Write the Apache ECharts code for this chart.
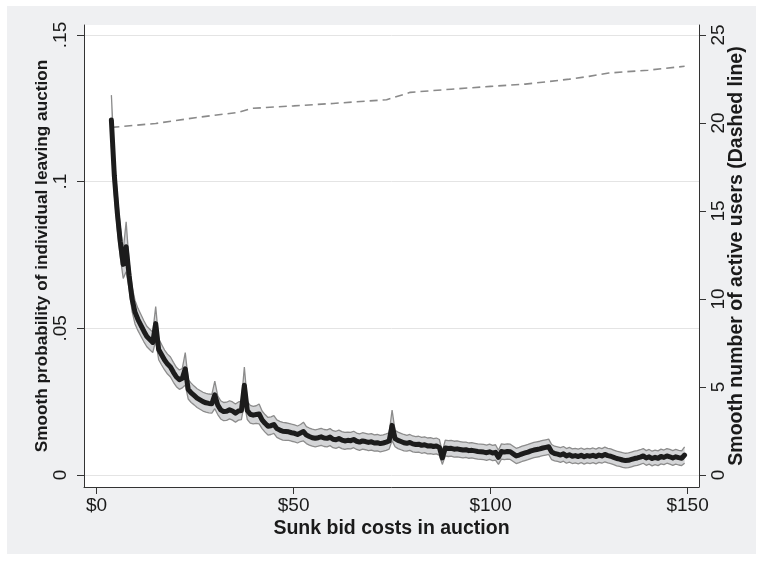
<!DOCTYPE html>
<html><head><meta charset="utf-8">
<script src="https://cdn.jsdelivr.net/npm/echarts@6/dist/echarts.min.js"></script>
<style>html,body{margin:0;padding:0;background:#fff}#c{width:763px;height:561px}</style>
</head><body><div id="c"></div>
<script>
const bidCosts = [3.75,4.5,5.25,6,6.75,7.5,8.25,9,9.75,10.5,11.25,12,12.75,13.5,14.25,15,15.75,16.5,17.25,18,18.75,19.5,20.25,21,21.75,22.5,23.25,24,24.75,25.5,26.25,27,27.75,28.5,29.25,30,30.75,31.5,32.25,33,33.75,34.5,35.25,36,36.75,37.5,38.25,39,39.75,40.5,41.25,42,42.75,43.5,44.25,45,45.75,46.5,47.25,48,48.75,49.5,50.25,51,51.75,52.5,53.25,54,54.75,55.5,56.25,57,57.75,58.5,59.25,60,60.75,61.5,62.25,63,63.75,64.5,65.25,66,66.75,67.5,68.25,69,69.75,70.5,71.25,72,72.75,73.5,74.25,75,75.75,76.5,77.25,78,78.75,79.5,80.25,81,81.75,82.5,83.25,84,84.75,85.5,86.25,87,87.75,88.5,89.25,90,90.75,91.5,92.25,93,93.75,94.5,95.25,96,96.75,97.5,98.25,99,99.75,100.5,101.25,102,102.75,103.5,104.25,105,105.75,106.5,107.25,108,108.75,109.5,110.25,111,111.75,112.5,113.25,114,114.75,115.5,116.25,117,117.75,118.5,119.25,120,120.75,121.5,122.25,123,123.75,124.5,125.25,126,126.75,127.5,128.25,129,129.75,130.5,131.25,132,132.75,133.5,134.25,135,135.75,136.5,137.25,138,138.75,139.5,140.25,141,141.75,142.5,143.25,144,144.75,145.5,146.25,147,147.75,148.5,149.25];
const leaveProb = [
0.1210,0.1020,0.0895,0.0795,0.0718,0.0778,0.0680,0.0600,0.0555,0.0530,
0.0510,0.0490,0.0472,0.0462,0.0452,0.0516,0.0428,0.0410,0.0392,0.0378,
0.0368,0.0350,0.0334,0.0325,0.0330,0.0362,0.0292,0.0280,0.0271,0.0262,
0.0256,0.0250,0.0246,0.0244,0.0243,0.0273,0.0238,0.0222,0.0216,0.0217,
0.0222,0.0218,0.0211,0.0218,0.0220,0.0306,0.0220,0.0207,0.0204,0.0206,
0.0208,0.0188,0.0176,0.0166,0.0168,0.0172,0.0158,0.0153,0.0149,0.0148,
0.0147,0.0144,0.0142,0.0138,0.0143,0.0148,0.0136,0.0131,0.0127,0.0125,
0.0127,0.0130,0.0126,0.0125,0.0129,0.0122,0.0120,0.0124,0.0119,0.0116,
0.0118,0.0117,0.0121,0.0115,0.0112,0.0116,0.0114,0.0111,0.0113,0.0109,
0.0110,0.0107,0.0109,0.0112,0.0116,0.0169,0.0124,0.0118,0.0114,0.0110,
0.0108,0.0111,0.0106,0.0104,0.0105,0.0101,0.0103,0.0099,0.0100,0.0097,
0.0099,0.0094,0.0058,0.0092,0.0090,0.0091,0.0088,0.0089,0.0087,0.0085,
0.0086,0.0083,0.0084,0.0082,0.0080,0.0079,0.0078,0.0076,0.0079,0.0075,
0.0077,0.0060,0.0080,0.0078,0.0080,0.0079,0.0072,0.0065,0.0068,0.0072,
0.0075,0.0078,0.0082,0.0085,0.0087,0.0089,0.0092,0.0094,0.0096,0.0078,
0.0073,0.0071,0.0068,0.0072,0.0065,0.0069,0.0064,0.0066,0.0063,0.0067,
0.0062,0.0066,0.0064,0.0067,0.0063,0.0068,0.0065,0.0070,0.0066,0.0064,
0.0060,0.0056,0.0054,0.0051,0.0049,0.0050,0.0053,0.0056,0.0058,0.0061,
0.0065,0.0058,0.0062,0.0056,0.0060,0.0057,0.0063,0.0060,0.0065,0.0062,
0.0058,0.0062,0.0059,0.0057,0.0068];
const ciHalf = [
0.0085,0.0065,0.0058,0.0052,0.0048,0.0085,0.0045,0.0042,0.0040,0.0038,
0.0037,0.0036,0.0035,0.0035,0.0035,0.0058,0.0035,0.0035,0.0034,0.0034,
0.0034,0.0034,0.0033,0.0033,0.0033,0.0055,0.0033,0.0033,0.0032,0.0032,
0.0032,0.0032,0.0032,0.0032,0.0032,0.0047,0.0032,0.0031,0.0031,0.0031,
0.0031,0.0031,0.0031,0.0031,0.0031,0.0062,0.0031,0.0030,0.0030,0.0030,
0.0034,0.0030,0.0030,0.0030,0.0030,0.0030,0.0030,0.0030,0.0030,0.0030,
0.0029,0.0029,0.0029,0.0029,0.0029,0.0032,0.0029,0.0029,0.0029,0.0029,
0.0029,0.0029,0.0029,0.0029,0.0029,0.0029,0.0029,0.0029,0.0029,0.0029,
0.0028,0.0028,0.0028,0.0028,0.0028,0.0028,0.0028,0.0028,0.0028,0.0028,
0.0028,0.0028,0.0028,0.0028,0.0028,0.0052,0.0028,0.0028,0.0028,0.0028,
0.0027,0.0027,0.0027,0.0027,0.0027,0.0027,0.0027,0.0027,0.0027,0.0027,
0.0027,0.0027,0.0022,0.0027,0.0027,0.0027,0.0027,0.0027,0.0027,0.0027,
0.0026,0.0026,0.0026,0.0026,0.0026,0.0026,0.0026,0.0026,0.0026,0.0026,
0.0026,0.0024,0.0026,0.0026,0.0026,0.0026,0.0026,0.0026,0.0026,0.0026,
0.0026,0.0026,0.0026,0.0026,0.0026,0.0026,0.0026,0.0026,0.0026,0.0026,
0.0025,0.0025,0.0025,0.0025,0.0025,0.0025,0.0025,0.0025,0.0025,0.0025,
0.0025,0.0025,0.0025,0.0025,0.0025,0.0025,0.0025,0.0025,0.0025,0.0025,
0.0025,0.0025,0.0025,0.0025,0.0025,0.0025,0.0025,0.0025,0.0025,0.0025,
0.0025,0.0025,0.0025,0.0025,0.0025,0.0025,0.0025,0.0025,0.0025,0.0025,
0.0025,0.0025,0.0025,0.0025,0.0028];
const activeCosts = [3.75,15,25,35.9,39.4,50,60,73.6,79.6,90,100,108.8,115,120,125,130,140,149.25];
const activeUsers = [19.75,19.97,20.3,20.6,20.83,20.97,21.11,21.32,21.74,21.92,22.08,22.21,22.36,22.49,22.65,22.84,23.0,23.22];
const xTicks = [0,50,100,150];
const yLeftTicks = [0,0.05,0.1,0.15];
const yRightTicks = [0,5,10,15,20,25];

const FONT = "'Liberation Sans', Arial, Helvetica, sans-serif";
const TXT = '#1a1a1a';
const AX = '#333333';

const n = Math.min(bidCosts.length, leaveProb.length, ciHalf.length);
const meanData = [], lowData = [], highData = [], bandRows = [];
for (let i = 0; i < n; i++) {
  const lo = leaveProb[i] - ciHalf[i], hi = leaveProb[i] + ciHalf[i];
  meanData.push([bidCosts[i], leaveProb[i]]);
  lowData.push([bidCosts[i], lo]);
  highData.push([bidCosts[i], hi]);
  bandRows.push([bidCosts[i], lo, hi]);
}
const activeData = activeCosts.map((c, i) => [c, activeUsers[i]]);

function renderBand(params, api) {
  if (params.dataIndex !== 0) return null;
  const pts = [];
  for (let i = 0; i < bandRows.length; i++) pts.push(api.coord([bandRows[i][0], bandRows[i][2]]));
  for (let i = bandRows.length - 1; i >= 0; i--) pts.push(api.coord([bandRows[i][0], bandRows[i][1]]));
  return {type: 'polygon', shape: {points: pts}, style: {fill: '#d4d5d7', stroke: null}, silent: true};
}

const chart = echarts.init(document.getElementById('c'), null, {renderer: 'canvas'});
chart.setOption({
  animation: false,
  backgroundColor: '#ffffff',
  textStyle: {fontFamily: FONT},
  graphic: [{
    type: 'rect', z: -10, silent: true,
    shape: {x: 7, y: 6, width: 749, height: 548},
    style: {fill: '#eff0f2'}
  }],
  grid: {left: 84, right: 64, top: 25, bottom: 74, show: true, backgroundColor: '#ffffff', borderWidth: 0},
  xAxis: {
    type: 'value', min: -3.2, max: 152.9,
    axisLine: {show: true, onZero: false, lineStyle: {color: AX, width: 1}},
    axisTick: {show: true, length: 7, customValues: xTicks, lineStyle: {color: AX, width: 1}},
    axisLabel: {customValues: xTicks, formatter: v => '$' + v, fontSize: 19, color: TXT, margin: 9, fontFamily: FONT},
    splitLine: {show: false},
    name: 'Sunk bid costs in auction', nameLocation: 'middle', nameGap: 32, nameMoveOverlap: false,
    nameTextStyle: {fontSize: 19.5, fontWeight: 'bold', color: TXT, fontFamily: FONT}
  },
  yAxis: [{
    type: 'value', position: 'left', min: -0.0041, max: 0.1534,
    axisLine: {show: true, onZero: false, lineStyle: {color: AX, width: 1}},
    axisTick: {show: true, length: 7, customValues: yLeftTicks, lineStyle: {color: AX, width: 1}},
    axisLabel: {customValues: yLeftTicks, rotate: 90, fontSize: 19, color: TXT, margin: 14, fontFamily: FONT,
      formatter: v => v === 0 ? '0' : String(+v.toFixed(2)).replace(/^0/, '')},
    splitLine: {show: true, lineStyle: {color: '#e4e4e4', width: 1}},
    name: 'Smooth probability of individual leaving auction', nameLocation: 'middle', nameGap: 33, nameRotate: 90, nameMoveOverlap: false,
    nameTextStyle: {fontSize: 17.2, fontWeight: 'bold', color: TXT, fontFamily: FONT}
  }, {
    type: 'value', position: 'right', min: -0.6833, max: 25.567,
    axisLine: {show: true, onZero: false, lineStyle: {color: AX, width: 1}},
    axisTick: {show: true, length: 7, customValues: yRightTicks, lineStyle: {color: AX, width: 1}},
    axisLabel: {customValues: yRightTicks, rotate: 90, fontSize: 19, color: TXT, margin: 10, fontFamily: FONT},
    splitLine: {show: false},
    name: 'Smooth number of active users (Dashed line)', nameLocation: 'middle', nameGap: 28, nameRotate: 90, nameMoveOverlap: false,
    nameTextStyle: {fontSize: 19.5, fontWeight: 'bold', color: TXT, fontFamily: FONT}
  }],
  series: [{
    name: 'ciBand', type: 'custom', data: bandRows, encode: {x: 0, y: [1, 2]}, renderItem: renderBand, z: 2, silent: true, clip: true
  }, {
    name: 'ciLow', type: 'line', data: lowData, symbol: 'none', z: 3, silent: true,
    lineStyle: {color: '#8c8c8c', width: 1.3}
  }, {
    name: 'ciHigh', type: 'line', data: highData, symbol: 'none', z: 3, silent: true,
    lineStyle: {color: '#8c8c8c', width: 1.3}
  }, {
    name: 'active', type: 'line', yAxisIndex: 1, data: activeData, symbol: 'none', z: 4, silent: true,
    lineStyle: {color: '#8a8a8a', width: 1.6, type: [8, 5]}
  }, {
    name: 'prob', type: 'line', data: meanData, symbol: 'none', z: 5, silent: true,
    lineStyle: {color: '#1c1c1c', width: 5, join: 'round', cap: 'round'}
  }]
});
</script></body></html>
